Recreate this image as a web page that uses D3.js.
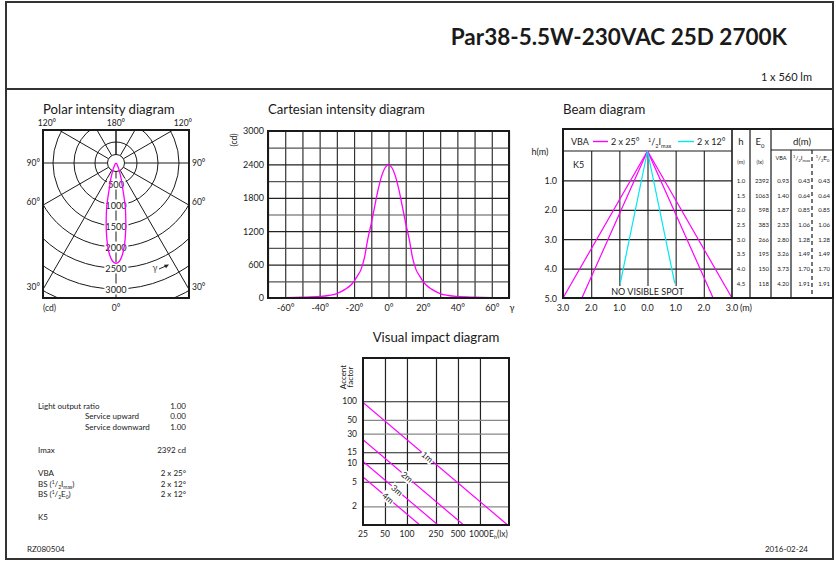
<!DOCTYPE html>
<html>
<head>
<meta charset="utf-8">
<script src="https://cdn.jsdelivr.net/npm/d3@7"></script>
<style>
body { margin: 0; background: #fff; }
svg { display: block; font-family: Lato, "Open Sans", sans-serif; }
</style>
</head>
<body>
<script>
var width = 836, height = 562;
var magenta = "#ff00ff", cyan = "#00e8f0", ink = "#1a1a1a";

var titleText = "Par38-5.5W-230VAC 25D 2700K";
var fluxText = "1 x 560 lm";

// luminous intensity (cd) against gamma (deg)
var gammaDeg  = [-70, -60, -50, -40, -35, -30, -25, -22, -20, -18, -16, -14, -12, -10, -8, -6, -4, -2, 0,
                 2, 4, 6, 8, 10, 12, 14, 16, 18, 20, 22, 25, 30, 35, 40, 50, 60, 70];
var intensity = [4, 7, 14, 28, 45, 80, 160, 230, 300, 400, 510, 720, 1060, 1340, 1650, 1950, 2190, 2340, 2392,
                 2340, 2190, 1950, 1650, 1340, 1060, 720, 510, 400, 300, 230, 160, 80, 45, 28, 14, 7, 4];

var polarRings = [500, 1000, 1500, 2000, 2500, 3000, 3500];
var polarRingLabels = [500, 1000, 1500, 2000, 2500, 3000];
var polarSpokes = [30, 60, 90, 120, 150, 180];

var cartYTicks = [0, 600, 1200, 1800, 2400, 3000];
var cartXTicks = [-60, -40, -20, 0, 20, 40, 60];

var beamH      = [1.0, 1.5, 2.0, 2.5, 3.0, 3.5, 4.0, 4.5];
var beamE0     = [2392, 1063, 598, 383, 266, 195, 150, 118];
var beamDVBA   = [0.93, 1.40, 1.87, 2.33, 2.80, 3.26, 3.73, 4.20];
var beamDHalfI = [0.43, 0.64, 0.85, 1.06, 1.28, 1.49, 1.70, 1.91];
var beamDHalfE = [0.43, 0.64, 0.85, 1.06, 1.28, 1.49, 1.70, 1.91];
var beamSpread = [0.60, 0.466, 0.215];   // half width per metre of height
var beamYTicks = [1, 2, 3, 4, 5];
var beamXTicks = [-3, -2, -1, 0, 1, 2, 3];

var impactNames = ["1m", "2m", "3m", "4m"];
var impactE0    = [2392, 598, 266, 150];
var impactYTicks = [2, 5, 10, 15, 30, 50, 100];
var impactXTicks = [25, 50, 100, 250, 500, 1000];

var infoLabels = ["Light output ratio", "Service upward", "Service downward", "Imax", "VBA", "BS", "BS", "K5"];
var infoValues = ["1.00", "0.00", "1.00", "2392 cd", "2 x 25°", "2 x 12°", "2 x 12°", ""];

var svg = d3.select("body").append("svg")
            .attr("width", width)
            .attr("height", height);

svg.append("rect").attr("width", width).attr("height", height).attr("fill", "#fff");

// helper for super/subscript text
function rich(t, size, parts) {
  var cur = 0;
  parts.forEach(function(p) {
    var target = p[1] == "sup" ? -size * 0.35 : p[1] == "sub" ? size * 0.28 : 0;
    t.append("tspan")
     .attr("dy", target - cur)
     .attr("font-size", p[1] == "n" ? size : size * 0.62)
     .text(p[0]);
    cur = target;
  });
  return t;
}
function txt(x, y, s, size, anchor) {
  return svg.append("text").attr("x", x).attr("y", y)
            .attr("font-size", size).attr("fill", ink)
            .attr("text-anchor", anchor || "start").text(s);
}
function bgLabel(g, x, y, s, size) {
  var t = g.append("text").attr("x", x).attr("y", y).attr("font-size", size)
           .attr("fill", ink).attr("text-anchor", "middle").text(s);
  var b = t.node().getBBox();
  g.insert("rect", function() { return t.node(); })
   .attr("x", b.x - 1).attr("y", b.y).attr("width", b.width + 2).attr("height", b.height)
   .attr("fill", "#fff");
  return t;
}
function styleTicks(g) {
  g.select(".domain").remove();
  g.selectAll("text").attr("font-size", 9).attr("fill", ink).attr("font-family", "Lato, sans-serif");
}

// page frame
svg.append("rect").attr("x", 6).attr("y", 2).attr("width", 827).attr("height", 557)
   .attr("fill", "none").attr("stroke", "#333").attr("stroke-width", 2);
svg.append("line").attr("x1", 6).attr("x2", 833).attr("y1", 89).attr("y2", 89)
   .attr("stroke", "#333").attr("stroke-width", 2);

txt(787, 45, titleText, 22.5, "end").attr("font-weight", "bold");
txt(812, 81, fluxText, 11, "end");

// ---------- polar ----------
var pc = {x: 116, y: 163}, pb = {x0: 43, y0: 130, x1: 189, y1: 298};
var pr = d3.scaleLinear().domain([0, 3000]).range([0, 126]);

svg.append("clipPath").attr("id", "pclip").append("rect")
   .attr("x", pb.x0).attr("y", pb.y0).attr("width", pb.x1 - pb.x0).attr("height", pb.y1 - pb.y0);
var pg = svg.append("g").attr("clip-path", "url(#pclip)");

pg.selectAll("circle.ring").data(polarRings).enter().append("circle")
  .attr("cx", pc.x).attr("cy", pc.y).attr("r", function(d) { return pr(d); })
  .attr("fill", "none").attr("stroke", ink).attr("stroke-width", 1);
pg.append("circle").attr("cx", pc.x).attr("cy", pc.y).attr("r", 8.5)
  .attr("fill", "none").attr("stroke", ink);

polarSpokes.forEach(function(a) {
  [a, -a].forEach(function(s) {
    var rad = s * Math.PI / 180;
    pg.append("line")
      .attr("x1", pc.x + 8.5 * Math.sin(rad)).attr("y1", pc.y + 8.5 * Math.cos(rad))
      .attr("x2", pc.x + 300 * Math.sin(rad)).attr("y2", pc.y + 300 * Math.cos(rad))
      .attr("stroke", ink).attr("stroke-width", 1);
  });
});
pg.append("line").attr("x1", pc.x).attr("x2", pc.x).attr("y1", pc.y + 8.5).attr("y2", pb.y1)
  .attr("stroke", ink);

polarRingLabels.forEach(function(d) { bgLabel(pg, pc.x, pc.y + pr(d) + 3.5, d, 9.2); });

var polarLine = d3.lineRadial()
                  .angle(function(d, i) { return Math.PI - gammaDeg[i] * Math.PI / 180; })
                  .radius(function(d) { return pr(d); })
                  .curve(d3.curveCatmullRom);
pg.append("path")
  .attr("transform", "translate(" + pc.x + "," + pc.y + ")")
  .attr("d", polarLine(intensity))
  .attr("fill", "none").attr("stroke", magenta).attr("stroke-width", 1.3);

svg.append("rect").attr("x", pb.x0).attr("y", pb.y0).attr("width", pb.x1 - pb.x0).attr("height", pb.y1 - pb.y0)
   .attr("fill", "none").attr("stroke", ink).attr("stroke-width", 2);

txt(43, 114, "Polar intensity diagram", 13.2);
txt(47, 126, "120°", 8.5, "middle");
txt(116, 126, "180°", 8.5, "middle");
txt(183, 126, "120°", 8.5, "middle");
[[90, 166], [60, 205], [30, 290]].forEach(function(p) {
  txt(40, p[1], p[0] + "°", 8.5, "end");
  txt(192, p[1], p[0] + "°", 8.5, "start");
});
txt(43, 311, "(cd)", 8.5);
txt(116, 311, "0°", 8.5, "middle");
txt(155, 271, "γ", 9, "middle").attr("fill", "#555");
svg.append("line").attr("x1", 159).attr("y1", 269).attr("x2", 167).attr("y2", 265.5)
   .attr("stroke", "#222").attr("stroke-width", 1);
svg.append("path").attr("d", "M169,264.5 L164,264.8 L166,268.3 Z").attr("fill", "#222");

// ---------- cartesian ----------
var cxs = d3.scaleLinear().domain([-70, 70]).range([268, 509]);
var cys = d3.scaleLinear().domain([0, 3000]).range([298, 131]);

var cg = svg.append("g");
cg.append("g").attr("transform", "translate(0,298)")
  .call(d3.axisBottom(cxs).tickValues(d3.range(-70, 71, 10)).tickSize(-(298 - 131)).tickFormat(""))
  .call(function(g) { g.select(".domain").remove(); g.selectAll("line").attr("stroke", "#333").attr("stroke-width", 1.2); });
cg.append("g").attr("transform", "translate(268,0)")
  .call(d3.axisLeft(cys).tickValues(d3.range(0, 3001, 300)).tickSize(-(509 - 268)).tickFormat(""))
  .call(function(g) { g.select(".domain").remove();
    g.selectAll("line").attr("stroke", function(d) { return d % 600 ? "#555" : "#222"; }).attr("stroke-width", 1.2); });

cg.append("g").attr("transform", "translate(268,0)")
  .call(d3.axisLeft(cys).tickValues(cartYTicks).tickSize(0).tickPadding(4).tickFormat(d3.format("d")))
  .call(styleTicks);
cg.append("g").attr("transform", "translate(0,298)")
  .call(d3.axisBottom(cxs).tickValues(cartXTicks).tickSize(0).tickPadding(7).tickFormat(function(d) { return d + "°"; }))
  .call(styleTicks);

var cartLine = d3.line()
                 .x(function(d, i) { return cxs(gammaDeg[i]); })
                 .y(function(d) { return cys(d); })
                 .curve(d3.curveMonotoneX);
cg.append("path").attr("d", cartLine(intensity))
  .attr("fill", "none").attr("stroke", magenta).attr("stroke-width", 1.3);
cg.append("rect").attr("x", 268).attr("y", 131).attr("width", 241).attr("height", 167)
  .attr("fill", "none").attr("stroke", ink).attr("stroke-width", 2);

txt(268, 114, "Cartesian intensity diagram", 13.2);
txt(237, 140, "(cd)", 8.5, "middle").attr("transform", "rotate(-90,237,140)");
txt(512, 311, "γ", 9, "middle");

// ---------- beam diagram ----------
var bx = d3.scaleLinear().domain([-3, 3]).range([563, 732]);
var by = d3.scaleLinear().domain([0, 5]).range([151, 298]);
var bg = svg.append("g");

bg.append("g").attr("transform", "translate(0,298)")
  .call(d3.axisBottom(bx).tickValues([-2, -1, 0, 1, 2]).tickSize(-(298 - 151)).tickFormat(""))
  .call(function(g) { g.select(".domain").remove(); g.selectAll("line").attr("stroke", "#333").attr("stroke-width", 1.2); });
bg.append("g").attr("transform", "translate(563,0)")
  .call(d3.axisLeft(by).tickValues([1, 2, 3, 4]).tickSize(-(732 - 563)).tickFormat(""))
  .call(function(g) { g.select(".domain").remove(); g.selectAll("line").attr("stroke", "#222").attr("stroke-width", 1.2); });
bg.append("line").attr("x1", 563).attr("x2", 732).attr("y1", 151).attr("y2", 151).attr("stroke", ink).attr("stroke-width", 1.2);

beamSpread.forEach(function(s, i) {
  var hEnd = i == 2 ? 4.5 : 5;
  [-1, 1].forEach(function(side) {
    bg.append("line")
      .attr("x1", bx(0)).attr("y1", by(0))
      .attr("x2", bx(side * s * hEnd)).attr("y2", by(hEnd))
      .attr("stroke", i == 2 ? cyan : magenta).attr("stroke-width", 1.2);
  });
});
bgLabel(bg, bx(0), 295, "NO VISIBLE SPOT", 9);

// table
var cols = [732, 750, 771, 791, 812, 833];
var tg = svg.append("g");
cols.forEach(function(x, i) {
  if (i == cols.length - 1) return;
  tg.append("line").attr("x1", x).attr("x2", x)
    .attr("y1", i >= 3 ? 150 : 129).attr("y2", 298)
    .attr("stroke", ink).attr("stroke-width", i == 0 ? 1.6 : 1.2)
    .attr("stroke-dasharray", i == 4 ? "4,3" : null);
});
tg.append("line").attr("x1", 771).attr("x2", 833).attr("y1", 150).attr("y2", 150).attr("stroke", ink);
tg.append("rect").attr("x", 563).attr("y", 129).attr("width", 270).attr("height", 169)
  .attr("fill", "none").attr("stroke", ink).attr("stroke-width", 2);

txt(741, 145, "h", 9.5, "middle");
rich(txt(760, 145, "", 9.5, "middle"), 9.5, [["E", "n"], ["0", "sub"]]);
txt(802, 145, "d(m)", 9.5, "middle");
txt(741, 164, "(m)", 5.5, "middle");
txt(760, 164, "(lx)", 5.5, "middle");
txt(781, 160, "VBA", 5.5, "middle");
rich(txt(801.5, 160, "", 6.5, "middle"), 6.5, [["1", "sup"], ["/", "n"], ["2", "sub"], ["I", "n"], ["max", "sub"]]);
rich(txt(822.5, 160, "", 6.5, "middle"), 6.5, [["1", "sup"], ["/", "n"], ["2", "sub"], ["E", "n"], ["0", "sub"]]);

beamH.forEach(function(h, i) {
  var y = by(h) + 2.5;
  txt(741, y, h.toFixed(1), 6, "middle");
  txt(769, y, beamE0[i], 6, "end");
  txt(789, y, beamDVBA[i].toFixed(2), 6, "end");
  txt(810, y, beamDHalfI[i].toFixed(2), 6, "end");
  txt(830, y, beamDHalfE[i].toFixed(2), 6, "end");
});

// header legend
txt(571, 145, "VBA", 9);
svg.append("line").attr("x1", 593).attr("x2", 608).attr("y1", 141.5).attr("y2", 141.5)
   .attr("stroke", magenta).attr("stroke-width", 1.4);
txt(611, 145, "2 x 25°", 9);
rich(txt(648, 145, "", 9), 9, [["1", "sup"], ["/", "n"], ["2", "sub"], ["I", "n"], ["max", "sub"]]);
svg.append("line").attr("x1", 678).attr("x2", 694).attr("y1", 141.5).attr("y2", 141.5)
   .attr("stroke", cyan).attr("stroke-width", 1.4);
txt(697, 145, "2 x 12°", 9);
txt(573, 168, "K5", 9);
txt(540, 155, "h(m)", 9, "middle");
beamYTicks.forEach(function(d) { txt(557, by(d) + 3.5, d.toFixed(1), 9, "end"); });
beamXTicks.forEach(function(d) { txt(bx(d), 311, Math.abs(d).toFixed(1), 9, "middle"); });
txt(bx(3) + 8, 311, "(m)", 9);
txt(563, 114, "Beam diagram", 13.2);

// ---------- visual impact ----------
var vx = d3.scaleLog().domain([25, 2500]).range([363, 509]);
var vy = d3.scaleLog().domain([1, 500]).range([525, 358]);
var vg = svg.append("g");

vg.append("g").attr("transform", "translate(0,525)")
  .call(d3.axisBottom(vx).tickValues([50, 100, 250, 500, 1000]).tickSize(-(525 - 358)).tickFormat(""))
  .call(function(g) { g.select(".domain").remove(); g.selectAll("line").attr("stroke", "#222").attr("stroke-width", 1.2); });
vg.append("g").attr("transform", "translate(363,0)")
  .call(d3.axisLeft(vy).tickValues(impactYTicks).tickSize(-(509 - 363)).tickFormat(""))
  .call(function(g) { g.select(".domain").remove();
    g.selectAll("line").attr("stroke", function(d) { return (d == 50 || d == 30 || d == 2) ? "#888" : "#222"; }).attr("stroke-width", 1.2); });

svg.append("clipPath").attr("id", "vclip").append("rect")
   .attr("x", 363).attr("y", 358).attr("width", 146).attr("height", 167);
var vl = vg.append("g").attr("clip-path", "url(#vclip)");
var labelAt = [190, 100, 73, 55];
var ang = Math.atan2(vy(1) - vy(10), vx(250) - vx(25)) * 180 / Math.PI;
impactE0.forEach(function(e, i) {
  vl.append("line")
    .attr("x1", vx(25)).attr("y1", vy(e / 25))
    .attr("x2", vx(e)).attr("y2", vy(1))
    .attr("stroke", magenta).attr("stroke-width", 1.2);
  var lx = vx(labelAt[i]), ly = vy(e / labelAt[i]);
  var lg = vl.append("g").attr("transform", "translate(" + lx + "," + ly + ") rotate(" + ang + ")");
  bgLabel(lg, 0, 3, impactNames[i], 8.5);
});
vg.append("rect").attr("x", 363).attr("y", 358).attr("width", 146).attr("height", 167)
  .attr("fill", "none").attr("stroke", ink).attr("stroke-width", 2);

impactYTicks.forEach(function(d) { txt(357, vy(d) + 3, d, 8.5, "end"); });
impactXTicks.forEach(function(d) { txt(d == 1000 ? vx(d) - 1 : vx(d), 537, d, 8.5, "middle"); });
rich(txt(489, 537, "", 8.5), 8.5, [["E", "n"], ["h", "sub"], ["(lx)", "n"]]);
txt(436, 342, "Visual impact diagram", 13.2, "middle");
txt(346, 377, "Accent", 8, "middle").attr("transform", "rotate(-90,346,377)");
txt(353, 377, "factor", 8, "middle").attr("transform", "rotate(-90,353,377)");

// ---------- info block ----------
var infoX = [38, 85, 85, 38, 38, 38, 38, 38];
var infoY = [409, 419, 430, 453, 476, 487, 497, 520];
infoLabels.forEach(function(s, i) {
  var t = txt(infoX[i], infoY[i], i == 5 || i == 6 ? "" : s, 8);
  if (i == 5) rich(t, 8, [["BS (", "n"], ["1", "sup"], ["/", "n"], ["2", "sub"], ["I", "n"], ["max", "sub"], [")", "n"]]);
  if (i == 6) rich(t, 8, [["BS (", "n"], ["1", "sup"], ["/", "n"], ["2", "sub"], ["E", "n"], ["0", "sub"], [")", "n"]]);
  txt(186, infoY[i], infoValues[i], 8, "end");
});

txt(27, 552, "RZ080504", 8);
txt(808, 552, "2016-02-24", 8, "end");
</script>
</body>
</html>
